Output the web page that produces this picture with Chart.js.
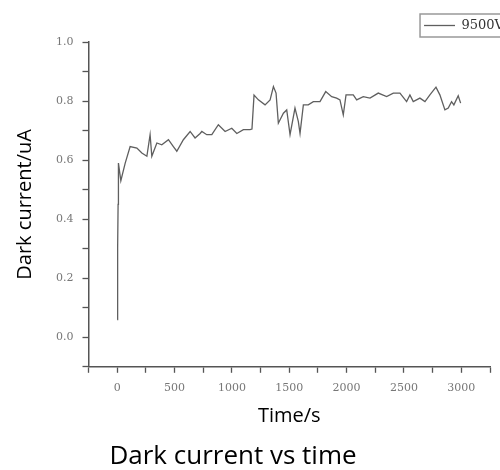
<!DOCTYPE html>
<html>
<head>
<meta charset="utf-8">
<script src="https://cdn.jsdelivr.net/npm/chart.js@4"></script>
<style>
  html, body { margin: 0; padding: 0; overflow: hidden; background: #fff; }
  #wrap { position: relative; width: 500px; height: 470px; overflow: hidden; }
  #darkChart { position: absolute; left: -48px; top: 0; }
</style>
</head>
<body>
<div id="wrap"><canvas id="darkChart" width="562" height="470"></canvas></div>
<script>
// time in seconds, dark current in uA
const times = [0, 4, 8, 11, 32, 70, 113, 172, 215, 259,
  287, 302, 346, 389, 447, 490, 520, 577, 636, 679,
  723, 738, 781, 825, 882, 941, 999, 1043, 1100, 1158,
  1175, 1193, 1231, 1289, 1333, 1362, 1385, 1405, 1449, 1478,
  1507, 1550, 1579, 1594, 1623, 1666, 1710, 1768, 1818, 1870,
  1913, 1942, 1971, 1995, 2058, 2088, 2145, 2204, 2276, 2349,
  2407, 2465, 2523, 2552, 2581, 2639, 2683, 2726, 2779, 2813,
  2857, 2886, 2915, 2935, 2973, 2994];
const current = [0.06, 0.30, 0.45, 0.59, 0.53, 0.59, 0.646, 0.641, 0.624, 0.613,
  0.686, 0.613, 0.658, 0.652, 0.669, 0.646, 0.63, 0.669, 0.697, 0.675,
  0.69, 0.697, 0.686, 0.686, 0.72, 0.697, 0.708, 0.69, 0.703, 0.703,
  0.705, 0.82, 0.804, 0.787, 0.804, 0.849, 0.827, 0.725, 0.759, 0.77,
  0.686, 0.776, 0.731, 0.69, 0.787, 0.787, 0.798, 0.798, 0.832, 0.815,
  0.81, 0.804, 0.753, 0.821, 0.821, 0.804, 0.815, 0.81, 0.827, 0.815,
  0.827, 0.827, 0.798, 0.821, 0.798, 0.81, 0.798, 0.821, 0.847, 0.821,
  0.77, 0.776, 0.798, 0.787, 0.818, 0.793];
const seriesName = "9500V";
const xTicks = [0, 500, 1000, 1500, 2000, 2500, 3000];
const yTicks = [0.0, 0.2, 0.4, 0.6, 0.8, 1.0];

const axisColor = "#555";
const tickFont = { family: "DejaVu Serif", size: 11 };

// box around the legend, open on the right like the original
const legendFrame = {
  id: "legendFrame",
  afterDraw(chart) {
    const box = chart.legend.legendHitBoxes[0];
    if (!box) return;
    const c = chart.ctx;
    c.save();
    c.strokeStyle = "#999";
    c.lineWidth = 1.5;
    c.strokeRect(box.left - 4, box.top - 5, chart.width - box.left + 10, box.height + 10);
    c.restore();
  }
};

new Chart(document.getElementById("darkChart"), {
  type: "line",
  data: {
    datasets: [{
      label: seriesName,
      data: times.map((t, i) => ({ x: t, y: current[i] })),
      borderColor: "#5f5f5f",
      backgroundColor: "#5f5f5f",
      borderWidth: 1.3,
      pointRadius: 0,
      tension: 0
    }]
  },
  options: {
    responsive: false,
    animation: false,
    plugins: {
      legend: {
        position: "top",
        align: "end",
        labels: {
          usePointStyle: true,
          pointStyle: "line",
          pointStyleWidth: 31,
          padding: 10,
          color: "#333",
          font: { family: "DejaVu Serif", size: 13 }
        }
      },
      title: {
        display: true,
        position: "bottom",
        text: "Dark current vs time",
        color: "#000",
        font: { family: "Open Sans", size: 26, weight: "normal", lineHeight: 1.0 },
        padding: { top: 0, bottom: 0 }
      },
      tooltip: { enabled: false }
    },
    scales: {
      x: {
        type: "linear",
        min: -250,
        max: 3250,
        border: { color: axisColor, width: 1.5 },
        grid: { drawOnChartArea: false, tickLength: 6, tickColor: axisColor, tickWidth: 1.3 },
        ticks: {
          stepSize: 250,
          padding: 9,
          color: "#777",
          font: tickFont,
          maxRotation: 0,
          autoSkip: false,
          callback: v => xTicks.includes(v) ? String(v) : ""
        },
        title: {
          display: true,
          text: "Time/s",
          color: "#000",
          font: { family: "Open Sans", size: 20 },
          padding: { top: 0, bottom: 16 }
        },
        afterFit: s => { s.paddingRight = 24; }
      },
      y: {
        min: -0.1,
        max: 1.0,
        border: { color: axisColor, width: 1.5 },
        grid: { drawOnChartArea: false, tickLength: 6, tickColor: axisColor, tickWidth: 1.3 },
        ticks: {
          stepSize: 0.1,
          padding: 9,
          color: "#777",
          font: tickFont,
          autoSkip: false,
          callback: v => {
            const r = Math.round(v * 10) / 10;
            return yTicks.some(t => Math.abs(t - r) < 1e-9) ? r.toFixed(1) : "";
          }
        },
        title: {
          display: true,
          text: "Dark current/uA",
          color: "#000",
          font: { family: "Open Sans", size: 20 },
          padding: { top: 61, bottom: 10 }
        },
        afterFit: s => { s.paddingTop = 42; }
      }
    }
  },
  plugins: [legendFrame]
});
</script>
</body>
</html>
